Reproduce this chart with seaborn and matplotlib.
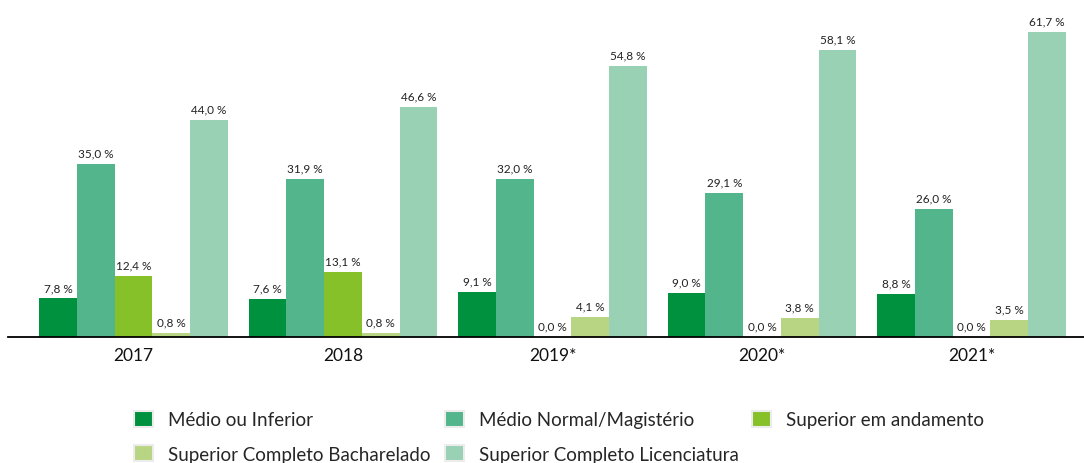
import matplotlib
matplotlib.use("Agg")
import matplotlib.pyplot as plt
from matplotlib.patches import Patch
import pandas as pd
import seaborn as sns

years = ["2017", "2018", "2019*", "2020*", "2021*"]
series = ["Médio ou Inferior", "Médio Normal/Magistério", "Superior em andamento",
          "Superior Completo Bacharelado", "Superior Completo Licenciatura"]
medio_inferior = [7.8, 7.6, 9.1, 9.0, 8.8]
medio_normal = [35.0, 31.9, 32.0, 29.1, 26.0]
sup_andamento = [12.4, 13.1, 0.0, 0.0, 0.0]
sup_bacharelado = [0.8, 0.8, 4.1, 3.8, 3.5]
sup_licenciatura = [44.0, 46.6, 54.8, 58.1, 61.7]
colors = ["#00913f", "#52b58b", "#86c12a", "#b8d584", "#98d1b4"]

values = [medio_inferior, medio_normal, sup_andamento, sup_bacharelado, sup_licenciatura]
df = pd.DataFrame([
    {"ano": y, "nivel": s, "pct": v}
    for s, vals in zip(series, values)
    for y, v in zip(years, vals)
])

sns.set_style("white")
plt.rcParams["font.family"] = ["Lato", "DejaVu Sans"]

fig = plt.figure(figsize=(10.84, 4.64), dpi=100)
ax = fig.add_axes([8 / 1084, 126 / 464, 1 - 8 / 1084, 321 / 464])

sns.barplot(data=df, x="ano", y="pct", hue="nivel", hue_order=series,
            palette=colors, width=0.9, saturation=1, linewidth=0,
            ax=ax, legend=False)

for cont in ax.containers:
    labels = [f"{b.get_height():.1f}".replace(".", ",") + " %" for b in cont]
    ax.bar_label(cont, labels=labels, padding=4, fontsize=8.5, color="#222222")

ax.set_xlim(-0.599, 4.537)
ax.set_ylim(0, 65)
ax.set_xlabel("")
ax.set_ylabel("")
ax.set_yticks([])
for side in ["top", "right", "left"]:
    ax.spines[side].set_visible(False)
ax.spines["bottom"].set_color("black")
ax.spines["bottom"].set_linewidth(1.3)
ax.tick_params(axis="x", length=0, pad=7, labelsize=12.5, labelcolor="#111111")

# legend: 3 columns, filled row-wise
handles = [Patch(facecolor=c, edgecolor="#ececec", linewidth=1.5) for c in colors]
order = [0, 3, 1, 4, 2]
fig.legend([handles[i] for i in order], [series[i] for i in order],
           loc="center", bbox_to_anchor=(0.516, 0.057), ncol=3, frameon=False,
           fontsize=13.5, handlelength=1.0, handleheight=1.0, handletextpad=0.8,
           columnspacing=0.75, labelspacing=0.87)

fig.savefig("out.png", dpi=100)
